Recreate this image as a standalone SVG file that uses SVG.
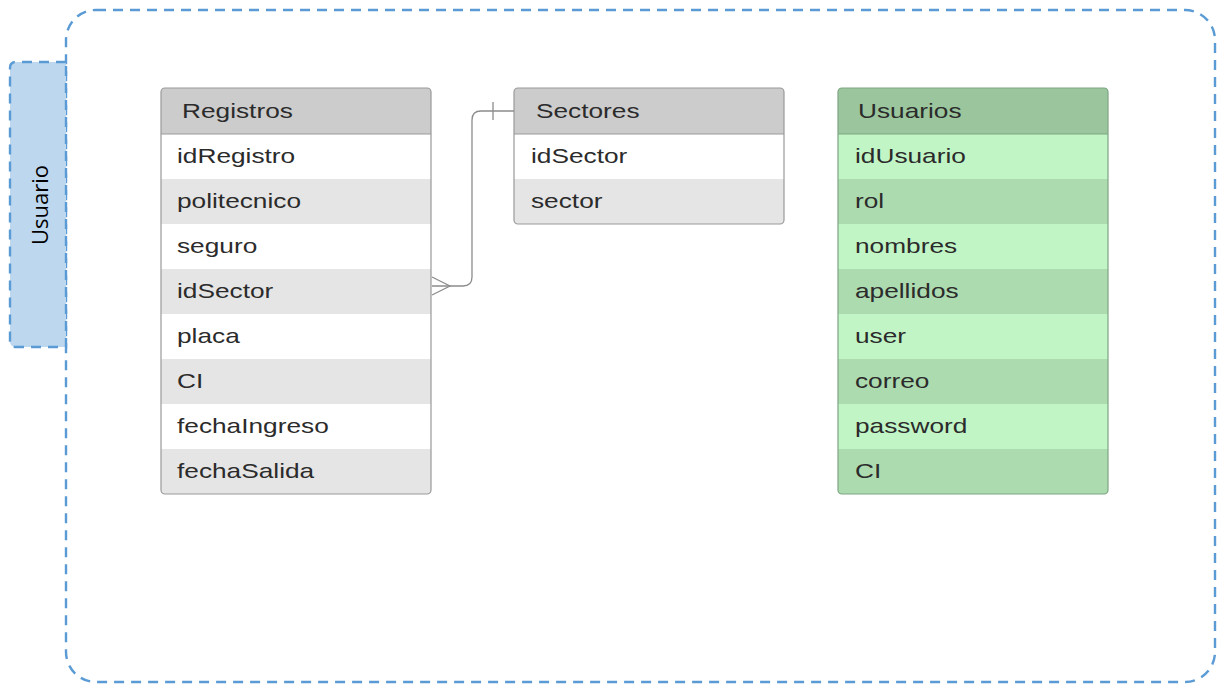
<svg xmlns="http://www.w3.org/2000/svg" width="1217" height="684" viewBox="0 0 1217 684">
<style>
.dash{fill:none;stroke:#5b9bd5;stroke-width:2.4;stroke-dasharray:10 7}
.t{font-family:"Liberation Sans",Arial,sans-serif;font-size:21px;fill:#2b2b2b}
.hg{fill:#cccccc}.w{fill:#ffffff}.g{fill:#e5e5e5}
.hv{fill:#9bc69d}.l{fill:#c2f5c6}.d{fill:#addbb0}
.bg{fill:none;stroke:#999;stroke-width:1.2}
.bv{fill:none;stroke:#7da582;stroke-width:1.2}
.sep{stroke:#999;stroke-width:1.2}
.sepv{stroke:#7da582;stroke-width:1.2}
.conn{fill:none;stroke:#8c8c8c;stroke-width:1.3}
</style>
<rect width="1217" height="684" fill="#ffffff"/>
<g id="container">
<rect class="dash" x="66" y="10" width="1149" height="672" rx="30" ry="30"/>
</g>
<g id="tab">
<path d="M66 62 H16 Q10 62 10 68 V341 Q10 347 16 347 H66 Z" fill="#bdd7ee" stroke="#5b9bd5" stroke-width="2.4" stroke-dasharray="10 7"/>
<text transform="translate(48,205) rotate(-90)" text-anchor="middle" font-family="'Open Sans',sans-serif" font-size="22" fill="#000">Usuario</text>
</g>
<g id="registros">
<rect class="w" x="161" y="88" width="270" height="406" rx="4"/>
<path class="hg" d="M161 134 V92 Q161 88 165 88 H427 Q431 88 431 92 V134 Z"/>
<rect class="g" x="161" y="179" width="270" height="45"/>
<rect class="g" x="161" y="269" width="270" height="45"/>
<rect class="g" x="161" y="359" width="270" height="45"/>
<path class="g" d="M161 449 H431 V490 Q431 494 427 494 H165 Q161 494 161 490 Z"/>
<line class="sep" x1="161" y1="134" x2="431" y2="134"/>
<rect class="bg" x="161" y="88" width="270" height="406" rx="4"/>
<text class="t" transform="translate(182,118) scale(1.25,1)">Registros</text>
<text class="t" transform="translate(177,163) scale(1.25,1)">idRegistro</text>
<text class="t" transform="translate(177,208) scale(1.25,1)">politecnico</text>
<text class="t" transform="translate(177,253) scale(1.25,1)">seguro</text>
<text class="t" transform="translate(177,298) scale(1.25,1)">idSector</text>
<text class="t" transform="translate(177,343) scale(1.25,1)">placa</text>
<text class="t" transform="translate(177,388) scale(1.25,1)">CI</text>
<text class="t" transform="translate(177,433) scale(1.25,1)">fechaIngreso</text>
<text class="t" transform="translate(177,478) scale(1.25,1)">fechaSalida</text>
</g>
<g id="sectores">
<rect class="w" x="514" y="88" width="270" height="136" rx="4"/>
<path class="hg" d="M514 134 V92 Q514 88 518 88 H780 Q784 88 784 92 V134 Z"/>
<path class="g" d="M514 179 H784 V220 Q784 224 780 224 H518 Q514 224 514 220 Z"/>
<line class="sep" x1="514" y1="134" x2="784" y2="134"/>
<rect class="bg" x="514" y="88" width="270" height="136" rx="4"/>
<text class="t" transform="translate(536,118) scale(1.25,1)">Sectores</text>
<text class="t" transform="translate(531,163) scale(1.25,1)">idSector</text>
<text class="t" transform="translate(531,208) scale(1.25,1)">sector</text>
</g>
<g id="usuarios">
<rect class="l" x="838" y="88" width="270" height="406" rx="4"/>
<path class="hv" d="M838 134 V92 Q838 88 842 88 H1104 Q1108 88 1108 92 V134 Z"/>
<rect class="d" x="838" y="179" width="270" height="45"/>
<rect class="d" x="838" y="269" width="270" height="45"/>
<rect class="d" x="838" y="359" width="270" height="45"/>
<path class="d" d="M838 449 H1108 V490 Q1108 494 1104 494 H842 Q838 494 838 490 Z"/>
<line class="sepv" x1="838" y1="134" x2="1108" y2="134"/>
<rect class="bv" x="838" y="88" width="270" height="406" rx="4"/>
<text class="t" transform="translate(858,118) scale(1.25,1)">Usuarios</text>
<text class="t" transform="translate(855,163) scale(1.25,1)">idUsuario</text>
<text class="t" transform="translate(855,208) scale(1.25,1)">rol</text>
<text class="t" transform="translate(855,253) scale(1.25,1)">nombres</text>
<text class="t" transform="translate(855,298) scale(1.25,1)">apellidos</text>
<text class="t" transform="translate(855,343) scale(1.25,1)">user</text>
<text class="t" transform="translate(855,388) scale(1.25,1)">correo</text>
<text class="t" transform="translate(855,433) scale(1.25,1)">password</text>
<text class="t" transform="translate(855,478) scale(1.25,1)">CI</text>
</g>
<g id="connectors">
<path class="conn" d="M432 286 H463 Q472 286 472 277 V120 Q472 111 481 111 H514"/>
<path class="conn" d="M432 277 L450 286 L432 295"/>
<line class="conn" x1="493" y1="102" x2="493" y2="120"/>
</g>
</svg>
